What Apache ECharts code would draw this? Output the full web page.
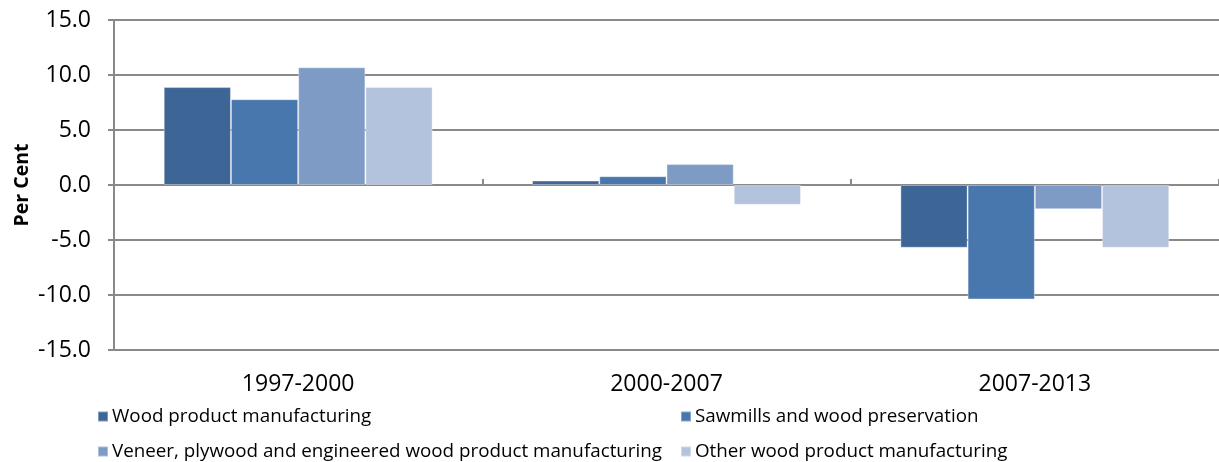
<!DOCTYPE html>
<html>
<head>
<meta charset="utf-8">
<script src="https://cdn.jsdelivr.net/npm/echarts@6/dist/echarts.min.js"></script>
<style>html,body{margin:0;padding:0;background:#fff}#c{width:1219px;height:462px}</style>
</head>
<body>
<div id="c"></div>
<script>
var categories = ['1997-2000', '2000-2007', '2007-2013'];
var seriesNames = ['Wood product manufacturing', 'Sawmills and wood preservation', 'Veneer, plywood and engineered wood product manufacturing', 'Other wood product manufacturing'];
var woodProduct = [8.9, 0.4, -5.7];
var sawmills = [7.8, 0.8, -10.4];
var veneer = [10.7, 1.9, -2.2];
var otherWood = [8.9, -1.8, -5.7];
var colors = ['#3D6595', '#4877AE', '#7E9BC6', '#B4C3DD'];

var font = '"Open Sans", sans-serif';
var chart = echarts.init(document.getElementById('c'));
var values = [woodProduct, sawmills, veneer, otherWood];
var legendPos = [[97, 407], [680, 407], [97, 442], [680, 442]];
chart.setOption({
  animation: false,
  grid: {left: 114, right: 0, top: 20, bottom: 112},
  legend: seriesNames.map(function (n, i) {
    return {data: [n], left: legendPos[i][0], top: legendPos[i][1], padding: 0, itemWidth: 10, itemHeight: 10, itemGap: 4,
      icon: 'rect', textStyle: {fontFamily: font, fontSize: 18.8, color: '#000', padding: [0, 0, 0, -1]}};
  }),
  xAxis: [{
    type: 'category', data: categories, position: 'bottom',
    axisLine: {show: false, onZero: false}, axisTick: {show: false},
    axisLabel: {fontFamily: font, fontSize: 23, color: '#000', margin: 23}
  }, {
    type: 'category', data: categories,
    axisLine: {show: true, onZero: true, lineStyle: {color: '#898989', width: 2}},
    axisTick: {show: true, length: 6, lineStyle: {color: '#898989', width: 2}},
    axisLabel: {show: false}
  }],
  yAxis: {
    type: 'value', min: -15, max: 15, interval: 5,
    name: 'Per Cent', nameLocation: 'middle', nameGap: 82, nameMoveOverlap: false,
    nameTextStyle: {fontFamily: font, fontSize: 19.5, fontWeight: 'bold', color: '#000'},
    axisLine: {show: true, lineStyle: {color: '#898989', width: 2}},
    axisTick: {show: true, length: 6, lineStyle: {color: '#898989', width: 2}},
    splitLine: {lineStyle: {color: '#898989', width: 2}},
    axisLabel: {fontFamily: font, fontSize: 23, color: '#000', margin: 23,
      formatter: function (v) { return v.toFixed(1); }}
  },
  series: values.map(function (d, i) {
    return {type: 'bar', name: seriesNames[i], data: d, xAxisIndex: 0,
      barGap: '0%', barCategoryGap: '27%',
      itemStyle: {color: colors[i], borderColor: 'rgba(255,255,255,0.35)', borderWidth: 1}};
  })
});
</script>
</body>
</html>
